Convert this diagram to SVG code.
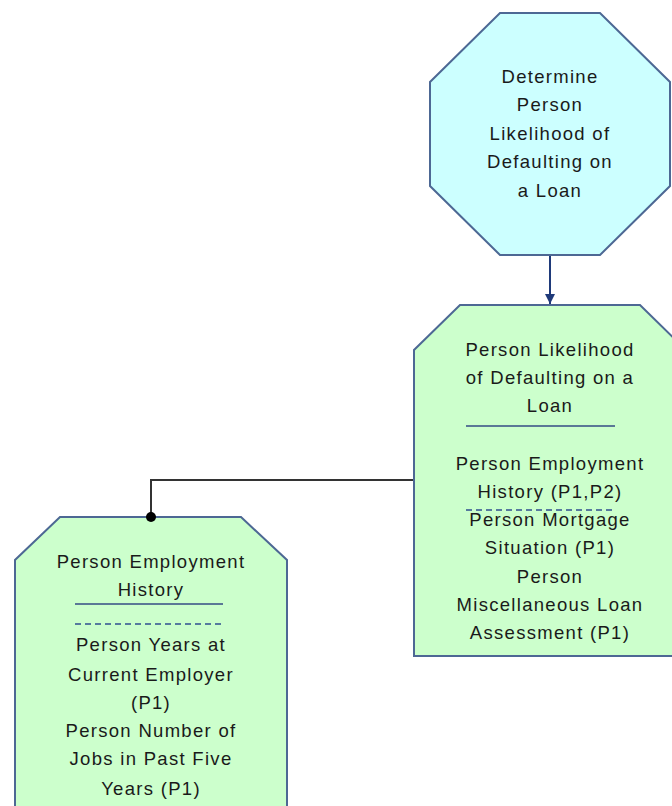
<svg xmlns="http://www.w3.org/2000/svg" width="672" height="806" viewBox="0 0 672 806">
<style>
.t{font-family:"Liberation Sans",Arial,sans-serif;font-size:18.5px;letter-spacing:1.3px;fill:#1a1a1a;text-anchor:middle}
.oct{fill:#ccffff;stroke:#4d6894;stroke-width:2}
.ent{fill:#ccffcc;stroke:#4d6894;stroke-width:2}
.sep{stroke:#5a7896;stroke-width:2}
.dash{stroke:#2f4f8f;stroke-width:1.5;stroke-dasharray:6,4}
</style>
<defs>
<marker id="arr" viewBox="0 0 10 10" refX="10" refY="5" markerWidth="5" markerHeight="5" orient="auto" markerUnits="strokeWidth">
<path d="M0,0 L10,5 L0,10 z" fill="#1f3a7a"/>
</marker>
</defs>
<g id="n1">
<polygon class="oct" points="500,13 600,13 670,82 670,186 600,255 500,255 430,186 430,82"/>
<text class="t" x="550" y="83">Determine</text>
<text class="t" x="550" y="111">Person</text>
<text class="t" x="550" y="140">Likelihood of</text>
<text class="t" x="550" y="168">Defaulting on</text>
<text class="t" x="550" y="197">a Loan</text>
</g>
<g id="n2">
<polygon class="ent" points="460,305 640,305 686,350 686,656 414,656 414,350"/>
<text class="t" x="550" y="356">Person Likelihood</text>
<text class="t" x="550" y="384">of Defaulting on a</text>
<text class="t" x="550" y="412">Loan</text>
<line class="sep" x1="466" y1="426" x2="615" y2="426"/>
<text class="t" x="550" y="470">Person Employment</text>
<text class="t" x="550" y="498">History (P1,P2)</text>
<line class="dash" x1="466" y1="510" x2="615" y2="510"/>
<text class="t" x="550" y="526">Person Mortgage</text>
<text class="t" x="550" y="554">Situation (P1)</text>
<text class="t" x="550" y="583">Person</text>
<text class="t" x="550" y="611">Miscellaneous Loan</text>
<text class="t" x="550" y="639">Assessment (P1)</text>
</g>
<g id="n3">
<polygon class="ent" points="60,517 241,517 287,560 287,820 15,820 15,560"/>
<text class="t" x="151" y="568">Person Employment</text>
<text class="t" x="151" y="596">History</text>
<line class="sep" x1="75" y1="604" x2="223" y2="604"/>
<line class="dash" x1="75" y1="624" x2="223" y2="624"/>
<text class="t" x="151" y="651">Person Years at</text>
<text class="t" x="151" y="681">Current Employer</text>
<text class="t" x="151" y="709">(P1)</text>
<text class="t" x="151" y="737">Person Number of</text>
<text class="t" x="151" y="765">Jobs in Past Five</text>
<text class="t" x="151" y="795">Years (P1)</text>
</g>
<g id="connectors">
<line x1="550" y1="256" x2="550" y2="304" stroke="#1f3a7a" stroke-width="2" marker-end="url(#arr)"/>
<polyline points="413,480 151,480 151,517" fill="none" stroke="#333" stroke-width="2"/>
<circle cx="151" cy="517" r="5" fill="#000"/>
</g>
</svg>
